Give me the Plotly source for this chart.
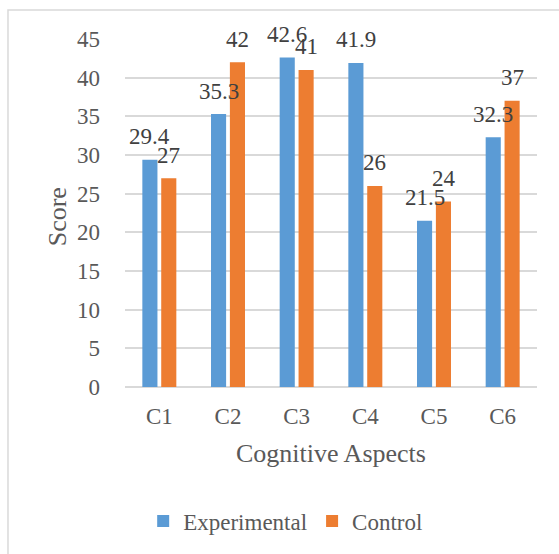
import plotly.graph_objects as go

categories = ["C1", "C2", "C3", "C4", "C5", "C6"]
experimental = [29.4, 35.3, 42.6, 41.9, 21.5, 32.3]
control = [27, 42, 41, 26, 24, 37]
y_ticks = [0, 5, 10, 15, 20, 25, 30, 35, 40, 45]

BLUE = "#5B9BD5"
ORANGE = "#ED7D31"
GRID = "#D9D9D9"
FONT = "Liberation Serif"

fig = go.Figure()
fig.add_trace(go.Bar(name="Experimental", x=categories, y=experimental,
                     marker=dict(color=BLUE, line=dict(width=0))))
fig.add_trace(go.Bar(name="Control", x=categories, y=control,
                     marker=dict(color=ORANGE, line=dict(width=0))))

# value labels above each bar
annotations = []
for i, c in enumerate(categories):
    for vals, shift in ((experimental, -9.5), (control, 9.5)):
        annotations.append(dict(x=c, y=vals[i], xref="x", yref="y",
                                text=f"{vals[i]:g}", showarrow=False,
                                xshift=shift, yshift=23,
                                font=dict(family=FONT, size=23, color="#404040")))

# axis titles
annotations.append(dict(x=0.5, y=-0.19, xref="paper", yref="paper",
                        text="Cognitive Aspects", showarrow=False,
                        xanchor="center", yanchor="middle",
                        font=dict(family=FONT, size=26, color="#595959")))
annotations.append(dict(x=-0.163, y=0.49, xref="paper", yref="paper",
                        text="Score", showarrow=False, textangle=-90,
                        xanchor="center", yanchor="middle",
                        font=dict(family=FONT, size=26, color="#595959")))

fig.update_layout(
    width=559, height=554,
    margin=dict(l=125, r=22, t=39, b=167),
    paper_bgcolor="white", plot_bgcolor="white",
    barmode="group", bargap=0.45, bargroupgap=0.2,
    font=dict(family=FONT, size=22, color="#595959"),
    showlegend=True,
    legend=dict(orientation="h", x=0.39, y=-0.385,
                xanchor="center", yanchor="middle",
                itemwidth=30, tracegroupgap=0,
                font=dict(family=FONT, size=23, color="#595959")),
    annotations=annotations,
    shapes=[dict(type="rect", xref="paper", yref="paper",
                 x0=-0.284, x1=1.08, y0=-0.52, y1=1.083,
                 line=dict(color=GRID, width=1.5), layer="below")],
)
fig.update_xaxes(showgrid=False, showline=False, ticks="",
                 ticklabelstandoff=13,
                 tickfont=dict(family=FONT, size=23, color="#595959"))
fig.update_yaxes(range=[0, 45], tickvals=y_ticks, showgrid=True,
                 gridcolor=GRID, gridwidth=1.5, zeroline=True,
                 zerolinecolor=GRID, zerolinewidth=1.5, showline=False,
                 ticks="", ticklabelstandoff=24,
                 tickfont=dict(family=FONT, size=23, color="#595959"))

fig.write_html("out.html")
